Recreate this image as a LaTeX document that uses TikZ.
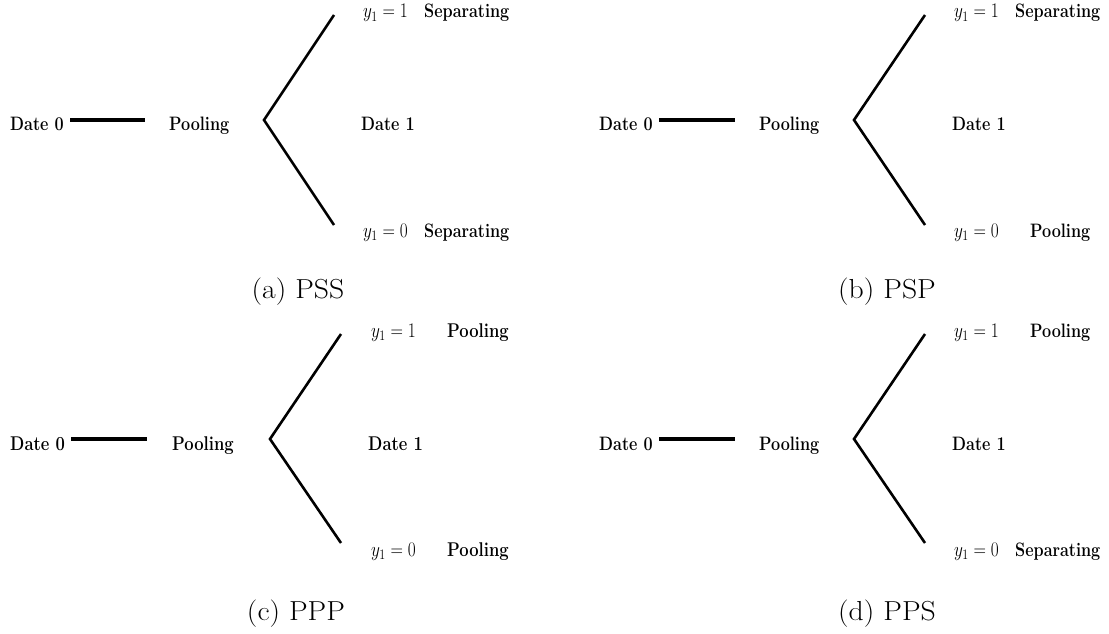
\documentclass[tikz,border=0pt]{standalone}
\newcommand{\vst}[1]{\scalebox{1}[1.2]{#1}}
\newcommand{\hst}[1]{\scalebox{1.08}[1]{#1}}
\begin{document}
\begin{tikzpicture}[x=1pt,y=-1pt,
  lbl/.style={inner sep=0pt,anchor=base west,font=\fontsize{16.2}{18}\selectfont\bfseries},
  lblc/.style={lbl,font=\fontsize{16.6}{18}\selectfont\bfseries},
  mlbl/.style={inner sep=0pt,anchor=base west,font=\fontsize{17}{18}\selectfont},
  captxt/.style={inner sep=0pt,anchor=base,font=\fontsize{27.5}{30}\selectfont},
  hline/.style={line width=3.6pt},
  branch/.style={line width=2.6pt}]
\useasboundingbox (0,0) rectangle (1109,634);
% ---------- (a) PSS ----------
\node[lbl] (a0) at (10,130) {\vst{Date 0}};
\coordinate (ah1) at (70,120); \coordinate (ah2) at (145,120);
\draw[hline] (ah1) -- (ah2);
\node[lbl] (ap) at (169,130) {\vst{Pooling}};
\coordinate (av) at (264,120); \coordinate (au) at (334,15); \coordinate (ad) at (334,225);
\draw[branch] (au) -- (av) -- (ad);
\node[lbl] (a1) at (361,130) {\vst{Date 1}};
\node[mlbl] (ay1) at (363,18) {\vst{$y_1=1$}};
\node[lbl] (as1) at (424,18) {\vst{Separating}};
\node[mlbl] (ay0) at (363,237) {\vst{$y_1=0$}};
\node[lbl] (as0) at (424,237) {\vst{Separating}};
\node[captxt] (acap) at (298,298) {\hst{(a) PSS}};
% ---------- (b) PSP ----------
\node[lbl] (b0) at (599,130) {\vst{Date 0}};
\coordinate (bh1) at (659,120); \coordinate (bh2) at (735,120);
\draw[hline] (bh1) -- (bh2);
\node[lbl] (bp) at (759,130) {\vst{Pooling}};
\coordinate (bv) at (854,120); \coordinate (bu) at (925,15); \coordinate (bd) at (925,225);
\draw[branch] (bu) -- (bv) -- (bd);
\node[lbl] (b1) at (952,130) {\vst{Date 1}};
\node[mlbl] (by1) at (954,18) {\vst{$y_1=1$}};
\node[lbl] (bs1) at (1015,18) {\vst{Separating}};
\node[mlbl] (by0) at (954,237) {\vst{$y_1=0$}};
\node[lbl] (bs0) at (1030,237) {\vst{Pooling}};
\node[captxt] (bcap) at (887,298) {\hst{(b) PSP}};
% ---------- (c) PPP ----------
\node[lblc] (c0) at (10,450) {\vst{Date 0}};
\coordinate (ch1) at (71,439); \coordinate (ch2) at (147,439);
\draw[hline] (ch1) -- (ch2);
\node[lblc] (cp) at (172,450) {\vst{Pooling}};
\coordinate (cv) at (270,439); \coordinate (cu) at (341,334); \coordinate (cd) at (341,543);
\draw[branch] (cu) -- (cv) -- (cd);
\node[lblc] (c1) at (368,450) {\vst{Date 1}};
\node[mlbl] (cy1) at (371,337) {\vst{$y_1=1$}};
\node[lblc] (cs1) at (447,337) {\vst{Pooling}};
\node[mlbl] (cy0) at (371,556) {\vst{$y_1=0$}};
\node[lblc] (cs0) at (447,556) {\vst{Pooling}};
\node[captxt] (ccap) at (296,620) {\hst{(c) PPP}};
% ---------- (d) PPS ----------
\node[lbl] (d0) at (599,450) {\vst{Date 0}};
\coordinate (dh1) at (659,439); \coordinate (dh2) at (735,439);
\draw[hline] (dh1) -- (dh2);
\node[lbl] (dp) at (759,450) {\vst{Pooling}};
\coordinate (dv) at (854,439); \coordinate (du) at (925,334); \coordinate (dd) at (925,543);
\draw[branch] (du) -- (dv) -- (dd);
\node[lbl] (d1) at (952,450) {\vst{Date 1}};
\node[mlbl] (dy1) at (954,337) {\vst{$y_1=1$}};
\node[lbl] (ds1) at (1030,337) {\vst{Pooling}};
\node[mlbl] (dy0) at (954,556) {\vst{$y_1=0$}};
\node[lbl] (ds0) at (1015,556) {\vst{Separating}};
\node[captxt] (dcap) at (887,620) {\hst{(d) PPS}};
\end{tikzpicture}
\end{document}
